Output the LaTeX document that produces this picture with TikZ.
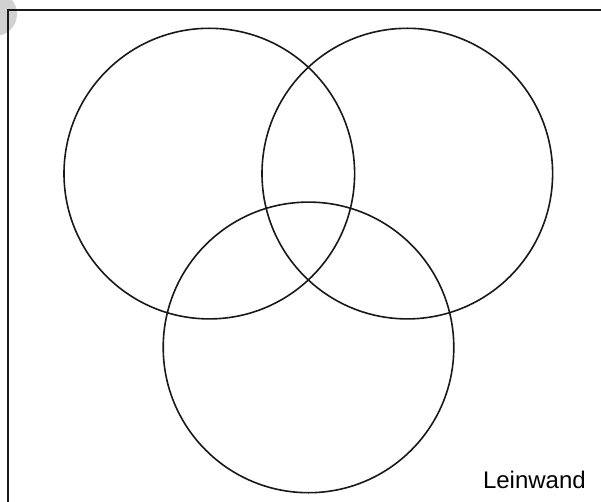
\documentclass[tikz,border=0pt]{standalone}
\usepackage{fontspec}
\setmainfont{Liberation Sans}
\begin{document}
\begin{tikzpicture}[x=1pt,y=-1pt,
  venn/.style={draw=black!90, line width=1.6pt, circle, minimum size=290.6pt, inner sep=0pt},
  frameline/.style={draw=black!90, line width=2pt},
  lbl/.style={font=\fontsize{24}{28}\selectfont, inner sep=0pt}]
\useasboundingbox (0,0) rectangle (601,502);
\fill[white] (0,0) rectangle (601,502);
\fill[black!18] (-5,14) circle[radius=22pt];
\coordinate (fb) at (8,503);
\coordinate (fc) at (8,10);
\coordinate (fr) at (602,10);
\draw[frameline] (fb) -- (fc) -- (fr);
\node[venn] (c1) at (209.3,173.6) {};
\node[venn] (c2) at (407.3,173.6) {};
\node[venn] (c3) at (308.5,347.4) {};
\node[lbl, anchor=base east] (lw) at (586,488) {Leinwand};
\end{tikzpicture}
\end{document}
